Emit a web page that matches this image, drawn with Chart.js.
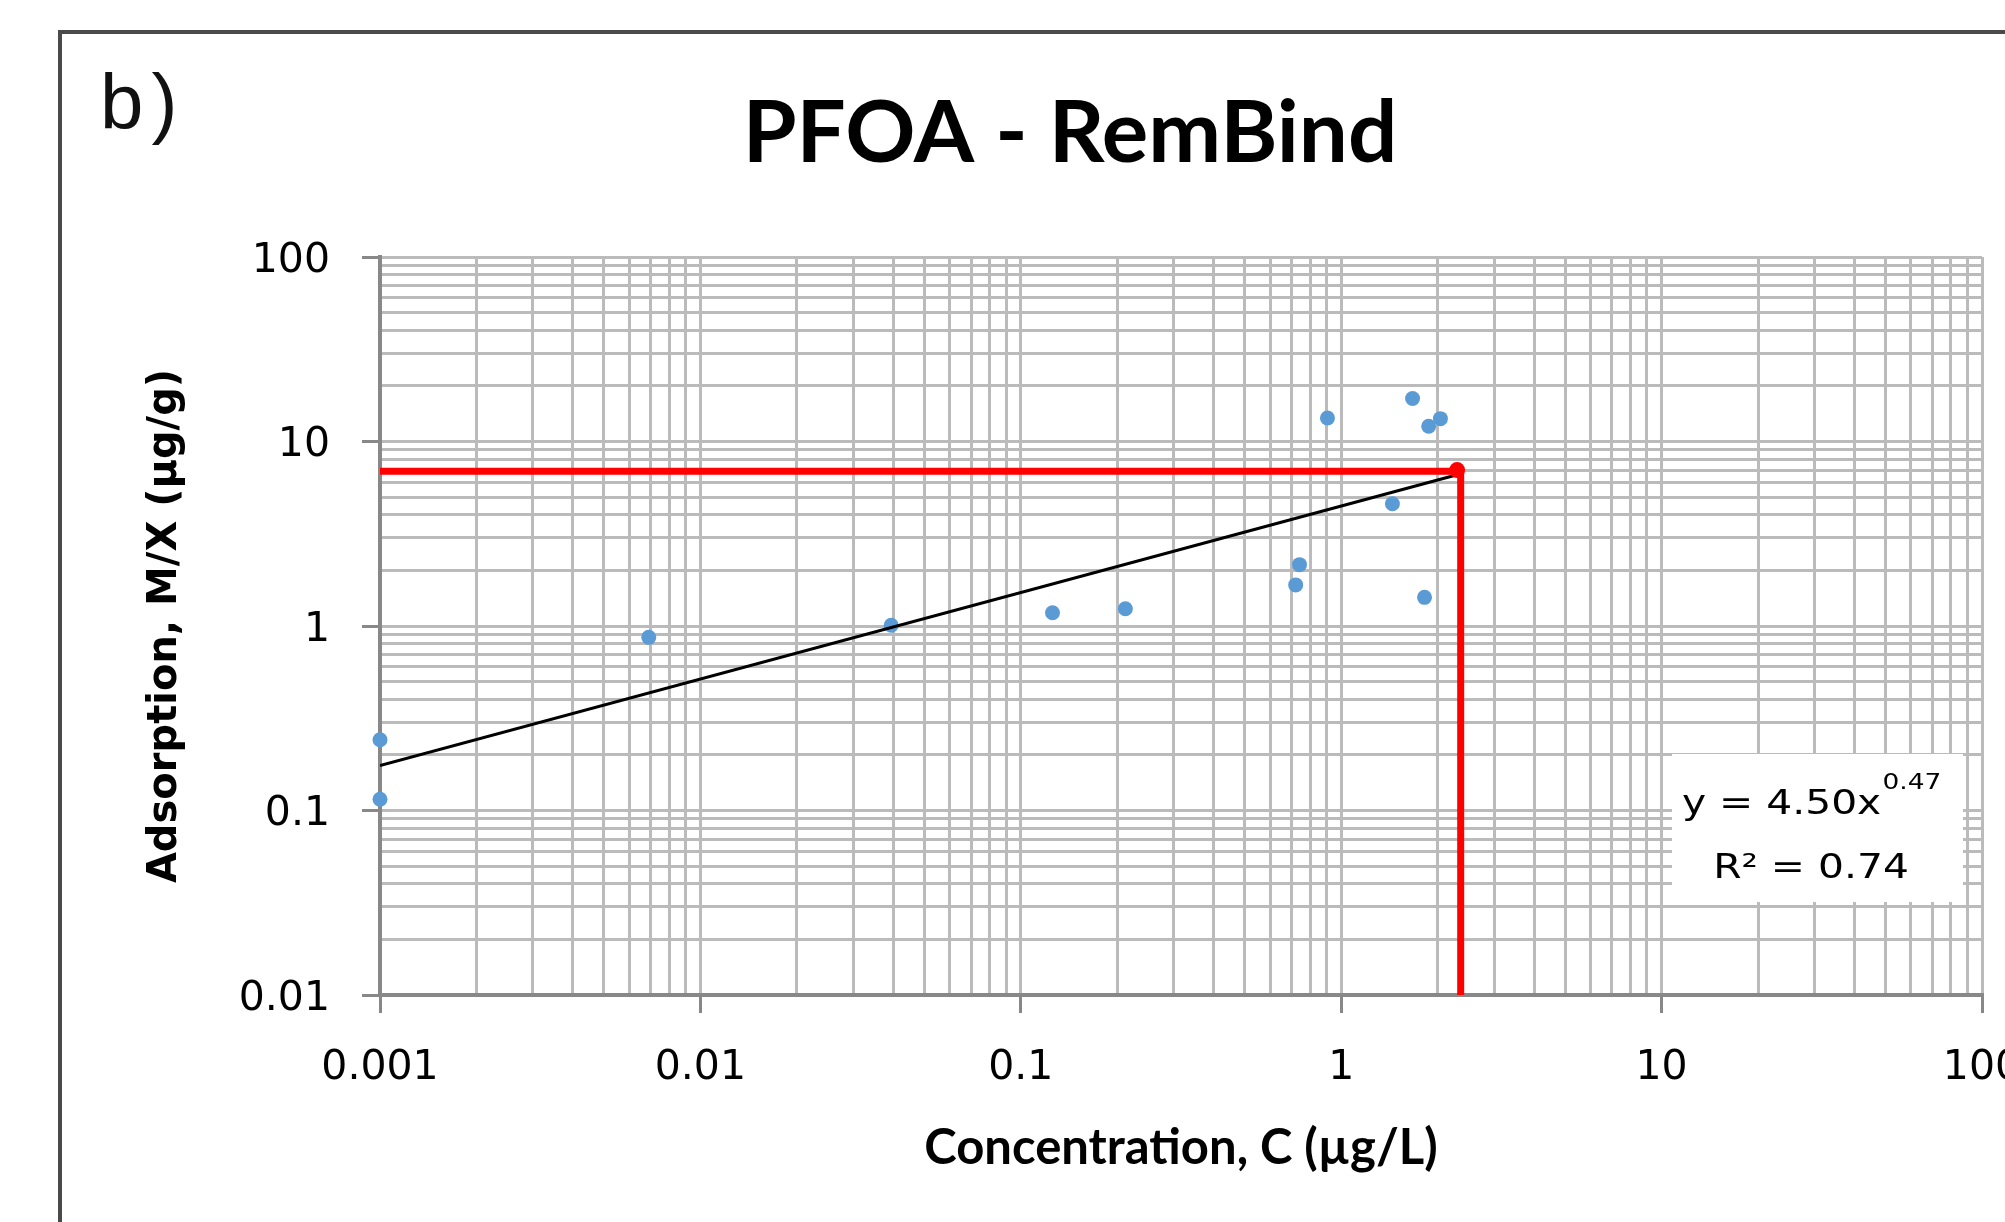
<!DOCTYPE html>
<html lang="en">
<head>
<meta charset="utf-8">
<title>PFOA - RemBind</title>
<script src="https://cdn.jsdelivr.net/npm/chart.js@4.4.1/dist/chart.umd.min.js"></script>
<style>
    html, body { margin: 0; padding: 0; background: #fff; overflow: hidden; }
    #chart { display: block; }
</style>
</head>
<body>
<canvas id="chart" width="2140" height="1222"></canvas>
<script>
"use strict";

//Measured points, C (µg/L) and M/X (µg/g)
const concentration = [0.001, 0.001, 0.0069, 0.0394, 0.1256, 0.212, 0.721, 0.741, 0.906, 1.445, 1.67, 1.82, 1.875, 2.04];
const adsorption = [0.242, 0.115, 0.868, 1.01, 1.18, 1.24, 1.67, 2.15, 13.4, 4.60, 17.1, 1.43, 12.1, 13.3];

//Power trendline y = 4.50x^0.47, start and end
const trendX = [0.001, 2.3];
const trendY = [0.175, 6.6];

//Red read-off lines and point
const readX = [0.001, 2.36, 2.36];
const readY = [6.9, 6.9, 0.01];
const readPointX = [2.3];
const readPointY = [7.0];

//Tick labels
const xTickLabels = ["0.001", "0.01", "0.1", "1", "10", "100"];
const yTickLabels = ["0.01", "0.1", "1", "10", "100"];

const equationText = "y = 4.50x";
const equationExp = "0.47";
const r2Text = "R\u00B2 = 0.74";

/**
 * Makes {x, y} points from two arrays
 */
function toPoints(xs, ys) {
    return xs.map((x, i) => ({ x: x, y: ys[i] }));
}

/**
 * Ticks for every 1..9 step between the labelled decades
 */
function logTicks(labels) {
    let majors = labels.map(Number);
    let ticks = [];
    for (let i = 0; i < majors.length - 1; i++) {
        for (let k = 1; k < 10; k++) {
            ticks.push({ value: majors[i] * k });
        }
    }
    ticks.push({ value: majors[majors.length - 1] });
    return ticks;
}

function findLabel(labels, value) {
    let i = labels.map(Number).findIndex(v => Math.abs(v - value) < v * 1e-6);
    return i >= 0 ? labels[i] : "";
}

function isMajor(value) {
    let l = Math.log10(value);
    return Math.abs(l - Math.round(l)) < 1e-6;
}

const gridColor = "#BBBBBB";
const axisColor = "#888888";

//Frame, "b)" and equation box
const decorations = {
    id: "decorations",
    beforeDraw(chart) {
        const ctx = chart.ctx;
        ctx.save();
        ctx.fillStyle = "#fff";
        ctx.fillRect(0, 0, chart.width, chart.height);
        ctx.strokeStyle = "#4a4a4a";
        ctx.lineWidth = 4;
        ctx.beginPath();
        ctx.moveTo(60, chart.height + 10);
        ctx.lineTo(60, 32);
        ctx.lineTo(chart.width + 10, 32);
        ctx.stroke();
        ctx.restore();
    },
    afterDraw(chart) {
        const ctx = chart.ctx;
        const area = chart.chartArea;
        ctx.save();

        //b)
        ctx.fillStyle = "#111";
        ctx.font = "78px 'Liberation Sans'";
        ctx.letterSpacing = "8px";
        ctx.textBaseline = "alphabetic";
        ctx.textAlign = "left";
        ctx.fillText("b)", 100, 129);
        ctx.letterSpacing = "0px";

        //equation box
        let boxLeft = area.right - 310;
        let boxTop = area.top + 497;
        ctx.fillStyle = "#fff";
        ctx.fillRect(boxLeft, boxTop, 291, 148);

        let cx = area.right - 171;
        let sx = 1.2;
        ctx.fillStyle = "#000";
        ctx.font = "34px 'DejaVu Sans'";
        let mainW = ctx.measureText(equationText).width;
        let r2W = ctx.measureText(r2Text).width;
        ctx.font = "22px 'DejaVu Sans'";
        let expW = ctx.measureText(equationExp).width;

        ctx.save();
        ctx.translate(cx - (mainW + expW) * sx / 2, boxTop + 60);
        ctx.scale(sx, 1);
        ctx.font = "34px 'DejaVu Sans'";
        ctx.fillText(equationText, 0, 0);
        ctx.font = "22px 'DejaVu Sans'";
        ctx.fillText(equationExp, mainW + 1, -25);
        ctx.restore();

        ctx.save();
        ctx.translate(cx - r2W * sx / 2, boxTop + 124);
        ctx.scale(sx, 1);
        ctx.font = "34px 'DejaVu Sans'";
        ctx.fillText(r2Text, 0, 0);
        ctx.restore();

        ctx.restore();
    }
};

const canvas = document.getElementById("chart");

new Chart(canvas, {
    type: "scatter",
    data: {
        datasets: [
            {
                type: "line",
                data: toPoints(readX, readY),
                borderColor: "#FF0000",
                borderWidth: 7,
                pointRadius: 0,
                fill: false,
                tension: 0
            },
            {
                data: toPoints(readPointX, readPointY),
                backgroundColor: "#FF0000",
                borderWidth: 0,
                pointRadius: 8
            },
            {
                type: "line",
                data: toPoints(trendX, trendY),
                borderColor: "#000000",
                borderWidth: 3,
                pointRadius: 0,
                fill: false,
                tension: 0
            },
            {
                data: toPoints(concentration, adsorption),
                backgroundColor: "#5B9BD5",
                borderWidth: 0,
                pointRadius: 7.5,
                clip: false
            }
        ]
    },
    options: {
        responsive: false,
        maintainAspectRatio: false,
        devicePixelRatio: 1,
        animation: false,
        layout: { padding: 0 },
        plugins: {
            legend: { display: false },
            tooltip: { enabled: false },
            title: {
                display: true,
                text: "PFOA - RemBind",
                color: "#000",
                font: { family: "Lato", weight: "bold", size: 87, lineHeight: 1 },
                padding: { top: 90, bottom: 80 }
            }
        },
        scales: {
            x: {
                type: "logarithmic",
                min: 0.001,
                max: 100,
                afterBuildTicks: (scale) => { scale.ticks = logTicks(xTickLabels); },
                afterFit: (scale) => { scale.height = 227; },
                border: { color: axisColor, width: 4 },
                grid: {
                    color: gridColor,
                    lineWidth: 3,
                    tickLength: 18,
                    tickWidth: 3,
                    tickColor: (ctx) => (ctx.tick && isMajor(ctx.tick.value)) ? axisColor : "rgba(0,0,0,0)"
                },
                ticks: {
                    autoSkip: false,
                    maxRotation: 0,
                    padding: 31,
                    color: "#000",
                    font: { family: "DejaVu Sans", size: 41 },
                    callback: (value) => findLabel(xTickLabels, value)
                },
                title: {
                    display: true,
                    text: "Concentration, C (µg/L)",
                    color: "#000",
                    font: { family: "Lato", weight: "bold", size: 49, lineHeight: 1.2 },
                    padding: { top: 0, bottom: 44 }
                }
            },
            y: {
                type: "logarithmic",
                min: 0.01,
                max: 100,
                afterBuildTicks: (scale) => { scale.ticks = logTicks(yTickLabels); },
                afterFit: (scale) => { scale.width = 380; },
                border: { color: axisColor, width: 4 },
                grid: {
                    color: gridColor,
                    lineWidth: 3,
                    tickLength: 18,
                    tickWidth: 3,
                    tickColor: (ctx) => (ctx.tick && isMajor(ctx.tick.value)) ? axisColor : "rgba(0,0,0,0)"
                },
                ticks: {
                    autoSkip: false,
                    padding: 32,
                    labelOffset: 4,
                    color: "#000",
                    font: { family: "DejaVu Sans", size: 41 },
                    callback: (value) => findLabel(yTickLabels, value)
                },
                title: {
                    display: true,
                    text: "Adsorption, M/X (µg/g)",
                    color: "#000",
                    font: { family: "DejaVu Sans", weight: "bold", size: 40, lineHeight: 1.2 },
                    padding: { top: 142, bottom: 0 }
                }
            },
            yRight: {
                type: "linear",
                position: "right",
                display: true,
                afterFit: (scale) => { scale.width = 158; },
                border: { display: false },
                grid: { display: false, drawTicks: false },
                ticks: { display: false }
            }
        }
    },
    plugins: [decorations]
});
</script>
</body>
</html>
